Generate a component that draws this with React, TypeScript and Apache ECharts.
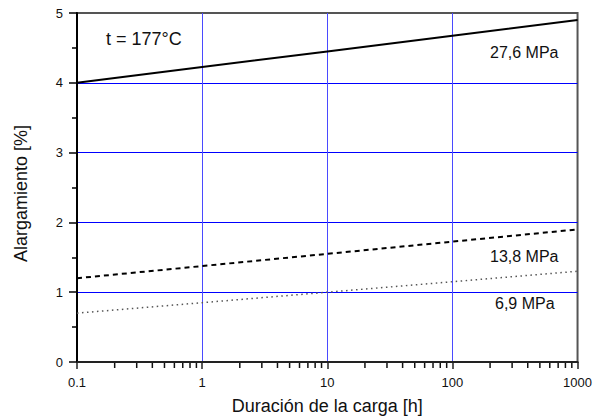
import React, { useEffect, useRef } from "react";
import * as echarts from "echarts";

const hours = [0.1, 1, 10, 100, 1000];
const elong276 = [4.0, 4.225, 4.45, 4.675, 4.9];
const elong138 = [1.2, 1.375, 1.55, 1.725, 1.9];
const elong69 = [0.7, 0.85, 1.0, 1.15, 1.3];
const xTickLabels = ["0.1", "1", "10", "100", "1000"];
const minorHours = [
  0.2, 0.3, 0.4, 0.5, 0.6, 0.7, 0.8, 0.9,
  2, 3, 4, 5, 6, 7, 8, 9,
  20, 30, 40, 50, 60, 70, 80, 90,
  200, 300, 400, 500, 600, 700, 800, 900,
];
const tempLabel = "t = 177°C";
const seriesLabels = ["27,6 MPa", "13,8 MPa", "6,9 MPa"];

const FONT = "'Liberation Sans', Arial, sans-serif";

export default function App() {
  const ref = useRef<HTMLDivElement>(null);
  useEffect(() => {
    if (!ref.current) return;
    const chart = echarts.init(ref.current, undefined, { renderer: "svg" });
    const pair = (ys: number[]) => hours.map((h, i) => [h, ys[i]]);
    chart.setOption({
      animation: false,
      backgroundColor: "#ffffff",
      textStyle: { fontFamily: FONT },
      grid: {
        left: 77,
        right: 14,
        top: 13,
        bottom: 57,
        show: true,
        borderColor: "#555555",
        borderWidth: 2,
        backgroundColor: "transparent",
      },
      xAxis: {
        type: "log",
        logBase: 10,
        min: 0.1,
        max: 1000,
        name: "Duración de la carga [h]",
        nameLocation: "middle",
        nameGap: 35,
        nameTextStyle: { fontSize: 18, color: "#111", fontFamily: FONT },
        axisLine: { show: true, lineStyle: { color: "#222", width: 2 } },
        axisTick: { show: true, inside: false, length: 7, lineStyle: { color: "#222", width: 1.5 } },
        axisLabel: {
          fontSize: 13,
          color: "#111",
          margin: 14,
          fontFamily: FONT,
          formatter: (_v: number, i: number) => xTickLabels[i] ?? String(_v),
        },
        splitLine: {
          show: true,
          showMinLine: false,
          showMaxLine: false,
          lineStyle: { color: "#4a4aff", width: 1 },
        },
      },
      yAxis: {
        type: "value",
        min: 0,
        max: 5,
        interval: 1,
        name: "Alargamiento [%]",
        nameLocation: "middle",
        nameGap: 47,
        nameTextStyle: { fontSize: 18, color: "#111", fontFamily: FONT, padding: [0, 12, 0, 0] },
        axisLine: { show: true, lineStyle: { color: "#000", width: 2 } },
        axisTick: { show: true, inside: false, length: 8, lineStyle: { color: "#000", width: 1.5 } },
        minorTick: { show: true, splitNumber: 2, length: 5, lineStyle: { color: "#000", width: 1.5 } },
        axisLabel: { fontSize: 13, color: "#111", margin: 14, fontFamily: FONT },
        splitLine: {
          show: true,
          showMinLine: false,
          showMaxLine: false,
          lineStyle: { color: "#0000ff", width: 1 },
        },
      },
      series: [
        {
          type: "line",
          data: pair(elong276),
          showSymbol: false,
          symbol: "none",
          lineStyle: { color: "#000", width: 2, type: "solid" },
          z: 5,
        },
        {
          type: "line",
          data: pair(elong138),
          showSymbol: false,
          symbol: "none",
          lineStyle: { color: "#000", width: 2, type: [5, 4] },
          z: 5,
        },
        {
          type: "line",
          data: pair(elong69),
          showSymbol: false,
          symbol: "none",
          lineStyle: { color: "#555", width: 1.5, type: [1.5, 3.5] },
          z: 5,
        },
        {
          type: "custom",
          coordinateSystem: "cartesian2d",
          clip: false,
          silent: true,
          data: minorHours.map((h) => [h, 0]),
          encode: { x: 0, y: 1 },
          renderItem: (_params: any, api: any) => {
            const p = api.coord([api.value(0), api.value(1)]);
            return {
              type: "line",
              shape: { x1: p[0], y1: p[1] + 1, x2: p[0], y2: p[1] + 6 },
              style: { stroke: "#111", lineWidth: 1.5 },
            };
          },
          z: 6,
        },
      ],
      graphic: [
        {
          type: "text",
          left: 106,
          top: 30,
          style: { text: tempLabel, fontSize: 18, fill: "#111", fontFamily: FONT },
        },
        {
          type: "text",
          left: 490,
          top: 44,
          style: { text: seriesLabels[0], fontSize: 16, fill: "#111", fontFamily: FONT },
        },
        {
          type: "text",
          left: 490,
          top: 248,
          style: { text: seriesLabels[1], fontSize: 16, fill: "#111", fontFamily: FONT },
        },
        {
          type: "text",
          left: 495,
          top: 295,
          style: { text: seriesLabels[2], fontSize: 16, fill: "#111", fontFamily: FONT },
        },
      ],
    });
    return () => chart.dispose();
  }, []);
  return (
    <div
      ref={ref}
      style={{ position: "fixed", left: 0, top: 0, width: 595, height: 420, background: "#fff" }}
    />
  );
}
